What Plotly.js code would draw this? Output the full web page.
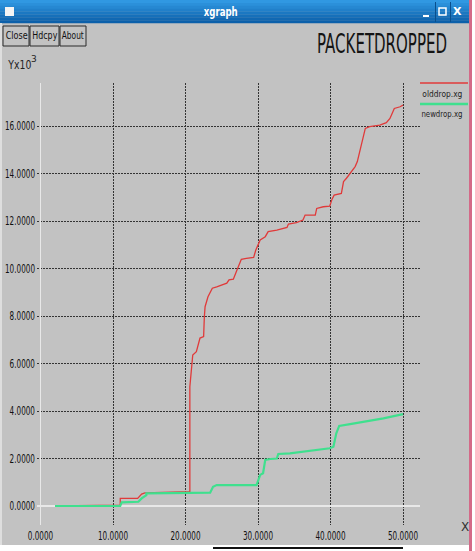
<!DOCTYPE html>
<html>
<head>
<meta charset="utf-8">
<script src="https://cdn.plot.ly/plotly-3.0.1.min.js"></script>
<style>html,body{margin:0;padding:0;background:#fff;}#chart{width:475px;height:551px;}</style>
</head>
<body>
<div id="chart"></div>
<script>
// ---- data (x: seconds, y: packets x 10^3) ----
const oldX = [2.0, 11.0, 11.0, 13.4, 13.95, 14.4, 20.6, 20.6, 21.0, 21.5, 22.0, 22.5, 22.6, 22.7, 23.1, 23.7, 24.3, 25.7, 26.0, 26.6, 27.1, 27.7, 28.4, 29.4, 29.7, 30.3, 31.0, 31.4, 32.6, 34.0, 34.2, 35.3, 36.2, 36.5, 37.9, 38.1, 39.0, 39.9, 40.2, 40.4, 40.5, 41.5, 41.8, 42.2, 42.9, 43.4, 43.7, 44.1, 44.5, 44.8, 45.4, 46.8, 47.7, 48.2, 48.8, 49.6, 50.0];
const oldY = [0, 0.04, 0.32, 0.32, 0.5, 0.55, 0.6, 5.02, 6.36, 6.5, 7.07, 7.13, 7.97, 8.39, 8.81, 9.17, 9.23, 9.38, 9.52, 9.55, 9.94, 10.39, 10.43, 10.47, 10.78, 11.2, 11.34, 11.55, 11.62, 11.73, 11.87, 11.93, 12.04, 12.25, 12.25, 12.53, 12.6, 12.63, 12.91, 13.02, 13.09, 13.16, 13.66, 13.8, 14.08, 14.29, 14.5, 15.06, 15.51, 15.9, 15.97, 16.04, 16.14, 16.32, 16.74, 16.81, 16.88];
const newX = [2.0, 11.0, 11.2, 13.5, 13.95, 14.6, 14.6, 23.4, 23.8, 24.3, 29.8, 30.3, 30.7, 31.0, 31.7, 32.6, 32.8, 34.4, 39.9, 40.4, 40.8, 41.2, 42.7, 47.3, 50.0];
const newY = [0, 0, 0.15, 0.18, 0.32, 0.46, 0.53, 0.56, 0.81, 0.88, 0.88, 1.31, 1.38, 1.94, 1.98, 2.0, 2.19, 2.22, 2.43, 2.5, 3.06, 3.37, 3.45, 3.69, 3.87];
const xTicks = [0, 10, 20, 30, 40, 50];
const yTicks = [0, 2, 4, 6, 8, 10, 12, 14, 16];
const seriesNames = ['olddrop.xg', 'newdrop.xg'];
const chartTitle = 'PACKETDROPPED';
const windowTitle = 'xgraph';
const buttonLabels = ['Close', 'Hdcpy', 'About'];

// ---- layout helpers (pixel -> paper) ----
const W = 475, H = 551, L = 37, R = 55, T = 83, B = 26;
const PW = W - L - R, PH = H - T - B;
const px = v => (v - L) / PW;
const py = v => (H - B - v) / PH;
const FONT = 'DejaVu Sans, sans-serif';
const GRAY = '#c2c2c2';

const shapes = [];
const annotations = [];
function rect(x0, y0, x1, y1, fill, line) {
  shapes.push({type: 'rect', xref: 'paper', yref: 'paper', x0: px(x0), x1: px(x1), y0: py(y1), y1: py(y0),
    fillcolor: fill, line: line || {width: 0}, layer: 'above'});
}
function hline(x0, x1, y, color, width) {
  shapes.push({type: 'line', xref: 'paper', yref: 'paper', x0: px(x0), x1: px(x1), y0: py(y), y1: py(y),
    line: {color: color, width: width}, layer: 'above'});
}
function vline(x, y0, y1, color, width) {
  shapes.push({type: 'line', xref: 'paper', yref: 'paper', x0: px(x), x1: px(x), y0: py(y0), y1: py(y1),
    line: {color: color, width: width}, layer: 'above'});
}
// text centred at cx with a target rendered width (pixels) used to condense glyphs like the xgraph font
const widths = [];
function text(t, cx, y, size, color, bold, targetW) {
  annotations.push({text: bold ? '<b>' + t + '</b>' : t, xref: 'paper', yref: 'paper', x: px(cx), y: py(y),
    xanchor: 'center', yanchor: 'middle', showarrow: false,
    font: {family: FONT, size: size, color: color}});
  widths.push(targetW || 0);
}

// title bar gradient
const bandTop = [48, 152, 226], bandBot = [12, 96, 170];
const nb = 8;
for (let i = 0; i < nb; i++) {
  const f = i / (nb - 1);
  const c = bandTop.map((v, k) => Math.round(v + (bandBot[k] - v) * f));
  rect(0, i * 23 / nb, 469, (i + 1) * 23 / nb + 0.3, 'rgb(' + c.join(',') + ')');
}
rect(5, 7, 14, 16, '#f4f4f4');
vline(435.5, 2, 22, '#0a4f8c', 1);
vline(450.5, 2, 22, '#0a4f8c', 1);
rect(439, 8, 446, 15, 'rgba(0,0,0,0)', {color: '#ffffff', width: 1.5});
hline(423, 429, 16, '#ffffff', 2);
text(windowTitle, 220, 12, 13, '#ffffff', true, 34);
text('X', 457, 12, 11, '#ffffff', true, 0);

// buttons
const btn = [[3, 29], [30, 59], [60, 86]];
btn.forEach((b, i) => {
  rect(b[0], 26, b[1], 46, 'rgba(0,0,0,0)', {color: '#2a2a2a', width: 1});
  text(buttonLabels[i], (b[0] + b[1]) / 2, 36, 10, '#111', false, b[1] - b[0] - 4);
});

// axis captions
text('Yx10', 19, 65, 12, '#222', false, 23);
text('3', 34, 59, 9, '#222', false, 0);
text('X', 465, 527, 12, '#333', false, 0);

// legend
hline(420, 468, 83, '#e03a3a', 1.5);
text(seriesNames[0], 442, 93, 9.5, '#222', false, 40);
hline(420, 468, 104, '#3fe08e', 2.5);
text(seriesNames[1], 442, 114, 9.5, '#222', false, 41);

// window borders
rect(469, 0, 472, 551, '#d46a88');
rect(472, 0, 475, 551, '#ffffff');
rect(0, 545, 469, 551, '#ffffff');
hline(213, 403, 548, '#111', 2);
rect(0, 23, 2, 545, '#dedede');

const traces = [
  {x: oldX, y: oldY, name: seriesNames[0], type: 'scatter', mode: 'lines',
   line: {color: '#e03a3a', width: 1.3}},
  {x: newX, y: newY, name: seriesNames[1], type: 'scatter', mode: 'lines',
   line: {color: '#3fe08e', width: 2.2}}
];

const x0 = -(40.5 - L) / 7.25;
const layout = {
  width: W, height: H,
  margin: {l: L, r: R, t: T, b: B, pad: 0},
  paper_bgcolor: GRAY, plot_bgcolor: GRAY,
  showlegend: false,
  title: {text: chartTitle, xref: 'container', yref: 'container', x: 382 / W, y: 1 - 44 / H,
    xanchor: 'center', yanchor: 'middle', font: {family: FONT, size: 26, color: '#141414'}},
  xaxis: {range: [x0, x0 + PW / 7.25], tickmode: 'array', tickvals: xTicks, tickformat: '.4f',
    showgrid: true, gridcolor: '#333333', gridwidth: 1, griddash: '2px,1px',
    zeroline: true, zerolinecolor: '#e8e8e8', zerolinewidth: 1,
    showline: false, ticks: '', ticklabelstandoff: 2,
    tickfont: {family: FONT, size: 11.5, color: '#111'}, fixedrange: true},
  yaxis: {range: [-19 / 23.75, -19 / 23.75 + PH / 23.75], tickmode: 'array', tickvals: yTicks, tickformat: '.4f',
    showgrid: true, gridcolor: '#333333', gridwidth: 1, griddash: '2px,1px',
    zeroline: true, zerolinecolor: '#e8e8e8', zerolinewidth: 2,
    showline: false, ticks: '', ticklabelstandoff: 1,
    tickfont: {family: FONT, size: 11.5, color: '#111'}, fixedrange: true},
  shapes: shapes,
  annotations: annotations
};

function squeeze(el, target) {
  const w = el.getComputedTextLength();
  if (!(w > 0) || !(target > 0) || target >= w) return;
  el.setAttribute('textLength', target.toFixed(1));
  el.setAttribute('lengthAdjust', 'spacingAndGlyphs');
}

Plotly.newPlot('chart', traces, layout, {displayModeBar: false, staticPlot: true}).then(gd => {
  gd.querySelectorAll('.xtick text, .ytick text').forEach(el => squeeze(el, el.getComputedTextLength() * 0.63));
  const t = gd.querySelector('.gtitle');
  if (t) squeeze(t, 130);
  gd.querySelectorAll('.annotation').forEach((a, i) => {
    const el = a.querySelector('text.annotation-text');
    if (el && widths[i]) squeeze(el, widths[i]);
  });
});
</script>
</body>
</html>
